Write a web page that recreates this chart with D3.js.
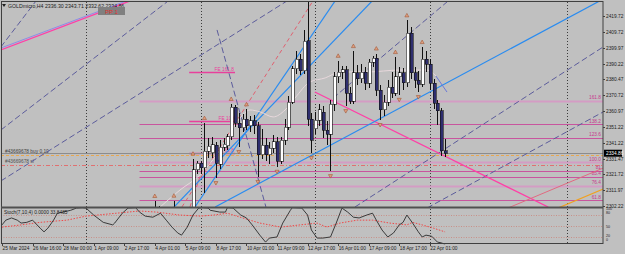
<!DOCTYPE html>
<html>
<head>
<meta charset="utf-8">
<script src="https://cdn.jsdelivr.net/npm/d3@7"></script>
<style>
  body { margin: 0; background: #c0c0c0; }
  svg { display: block; }
  text { font-family: "Liberation Sans", Arial, sans-serif; }
</style>
</head>
<body>
<svg id="chart"></svg>
<script>
// ---- data ----
var symbolTitle = "GOLDmicro,H4 2336.30 2343.71 2332.62 2334.86";
var firstBar = 40;
var opens  = [2298.0,2300.0,2292.0,2286.0,2291.0,2298.0,2296.0,2290.0,2289.0,2295.0,
              2299.0,2324.5,2328.8,2326.0,2336.0,2335.0,2339.8,2328.0,2338.7,2339.5,
              2345.0,2363.4,2353.5,2350.5,2356.0,2352.0,2355.0,2352.0,2333.8,2339.9,
              2333.8,2338.0,2341.8,2330.0,2343.0,2351.0,2366.5,2387.0,2393.0,2386.0,
              2404.5,2356.0,2350.0,2355.4,2360.3,2349.0,2346.7,2365.0,2382.0,2385.0,
              2386.5,2372.0,2367.0,2384.5,2381.0,2385.0,2378.0,2391.0,2393.7,2373.9,
              2361.6,2366.5,2375.8,2372.0,2382.0,2384.5,2378.3,2409.0,2384.5,2380.0,
              2377.5,2393.0,2390.0,2378.0,2365.9,2361.0,2336.30];
var highs  = [2305.3,2302.0,2295.0,2293.0,2300.0,2305.5,2300.0,2294.0,2296.0,2301.0,
              2331.5,2330.0,2330.0,2353.5,2344.0,2345.0,2342.0,2343.0,2344.0,2347.0,
              2365.3,2364.5,2360.0,2359.0,2362.0,2358.0,2358.5,2354.0,2350.0,2344.0,
              2342.0,2346.0,2345.0,2345.0,2356.0,2370.0,2389.0,2398.0,2396.0,2411.0,
              2431.5,2359.5,2360.5,2365.5,2364.0,2355.0,2368.0,2385.0,2392.0,2389.0,
              2389.0,2376.0,2398.0,2389.5,2390.0,2388.0,2393.0,2395.0,2396.5,2377.0,
              2371.0,2380.0,2385.0,2394.3,2388.0,2387.6,2417.0,2413.0,2388.0,2386.0,
              2400.5,2398.0,2393.0,2381.0,2368.0,2363.0,2343.71];
var lows   = [2294.0,2290.0,2284.0,2283.0,2288.0,2294.0,2288.0,2282.0,2285.0,2291.0,
              2297.0,2322.0,2322.0,2310.0,2332.0,2332.0,2319.5,2325.0,2336.0,2337.0,
              2343.0,2351.0,2338.7,2348.0,2349.0,2348.0,2347.0,2320.2,2331.0,2330.0,
              2328.0,2335.0,2326.5,2328.0,2340.0,2349.0,2365.0,2384.0,2383.0,2384.0,
              2352.0,2335.0,2347.0,2352.0,2344.0,2340.0,2323.8,2361.0,2378.0,2381.0,
              2364.0,2365.0,2365.5,2377.0,2378.0,2374.0,2375.0,2388.0,2370.0,2355.4,
              2358.0,2364.0,2369.0,2370.0,2371.0,2374.0,2376.0,2381.0,2375.0,2372.7,
              2376.0,2385.0,2374.0,2362.0,2352.3,2333.0,2332.62];
var closes = [2301.0,2292.0,2286.0,2291.0,2298.0,2296.0,2290.0,2289.0,2295.0,2299.0,
              2324.5,2328.8,2326.0,2336.0,2339.3,2340.0,2328.8,2338.7,2340.5,2345.0,
              2363.4,2353.5,2350.5,2356.0,2352.0,2355.0,2352.0,2333.8,2339.9,2333.8,
              2338.0,2341.8,2330.0,2343.0,2351.0,2366.5,2387.0,2393.0,2386.0,2404.0,
              2356.0,2343.0,2355.4,2361.6,2349.0,2346.7,2365.0,2382.0,2385.0,2386.5,
              2372.0,2367.0,2384.5,2381.0,2385.0,2378.0,2391.0,2393.7,2373.9,2361.6,
              2366.5,2375.8,2372.0,2382.0,2384.5,2378.3,2409.0,2384.5,2380.0,2377.5,
              2393.0,2390.0,2378.0,2365.9,2361.0,2336.3,2334.86];

var fractalUp   = [40, 45, 50, 53, 60, 64, 88, 92, 98, 103, 106, 110];
var fractalDown = [56, 62, 67, 72, 81, 86, 90, 99, 104, 109];

var priceTicks = [2419.72, 2409.72, 2399.97, 2390.22, 2380.47, 2370.72, 2360.97,
                  2351.22, 2341.22, 2331.47, 2321.72, 2311.97, 2302.22];
var dateTicks  = [0, 8, 16, 24, 32, 40, 48, 56, 64, 72, 80, 88, 96, 104, 112];
var dateLabels = ["25 Mar 2024", "26 Mar 16:00", "28 Mar 00:00", "1 Apr 09:00", "2 Apr 17:00",
                  "4 Apr 01:00", "5 Apr 09:00", "8 Apr 17:00", "10 Apr 01:00", "11 Apr 09:00",
                  "12 Apr 17:00", "16 Apr 01:00", "17 Apr 09:00", "18 Apr 17:00", "22 Apr 01:00"];
var separators = [22, 52, 82, 112, 148];

var bidPrice = 2334.86;
var orderPrice = 2334.3;
var slPrice = 2327.6;

var fibStart = 36;
var fibLabels = ["161.8", "138.2", "123.6", "100.0", "81", "85.4", "76.4", "61.8"];
var fibPrices = [2367.2, 2352.9, 2344.3, 2329.4, 2323.9, 2320.2, 2314.6, 2305.9];
var fibPale   = [true, false, false, true, false, false, true, false];

var feLabels = ["FE 161.8", "FE 100", "FE 61.8"];
var fePrices = [2385.1, 2354.6, 2335.0];
var feFrom = 49, feTo = 61;

// trend lines: [bar1, price1, bar2, price2]
var slateLines = [[-0.3, 2400.55, 8.9, 2429.0], [-0.3, 2349.2, 43.5, 2429.0],
                  [-0.3, 2317.7, 74.6, 2429.0], [56.3, 2411.1, 69.1, 2301.6],
                  [92.4, 2301.6, 157.4, 2400.6], [111.3, 2301.0, 157.4, 2360.4],
                  [86.7, 2369.0, 116.8, 2429.0]];
var blueLines  = [[50.5, 2301.6, 87.2, 2429.0], [44.8, 2301.0, 96.9, 2429.0],
                  [55.8, 2301.6, 157.4, 2430.2]];
var redDashed  = [[47.1, 2301.6, 81.4, 2429.0], [49.2, 2301.6, 53.7, 2333.8]];
var pinkLines  = [[-0.3, 2398.7, 33.5, 2429.0], [81.9, 2372.7, 143.0, 2301.6]];
var paleBlueLine = [-0.3, 2399.9, 32.5, 2429.0];
var orangeLine = [145.6, 2301.0, 157.4, 2312.7];
var salmonLine = [132.5, 2301.0, 157.4, 2325.7];

var maBars   = [41.4, 46.6, 51.8, 57.1, 62.3, 64.9, 67.6, 71.0, 74.1, 76.7, 80.6, 84.6, 88.5, 95.6, 104.2, 111.3, 113.6];
var maPrices = [2301.6, 2312.1, 2321.4, 2336.9, 2356.6, 2361.6, 2360.4, 2357.3, 2361.6, 2369.0, 2378.9, 2381.4, 2385.1, 2385.1, 2386.3, 2386.3, 2382.6];
var maTailBars = [113.6, 116.5];
var maTailPrices = [2382.6, 2372.7];

var stochBars = [0,1,2.5,4,5,6.5,8,10,11,12,13.5,14.5,16,18,19.5,21,22,24,26.5,29,29.5,31.5,33,35,36,37.5,39.5,41.5,43,44.5,46,47,48.5,50,51.5,52.5,54,54.5,57,58.5,59,60.5,62.5,64,65.5,67.5,69,70,72,73.5,75.5,76,78.5,80,81,82.5,84,86,87.5,89,90.5,92,93.5,95.5,97,98,99.5,101,102.5,104,105,106,107.5,109,110,111,112.5,114,115,116];
var stochMain = [53,66,72,66,58,60,66,44,34,44,66,85,88,93,99,100,99,80,60,53,58,85,99,100,88,77,74,85,66,47,31,25,47,80,99,100,99,93,88,88,100,99,80,72,53,25,6,17,20,58,93,100,99,80,39,17,17,20,58,99,88,74,72,80,85,66,39,20,31,53,60,80,58,34,20,25,22,6,4,0];
var signalBars = [0,5,10,17,22,30,36,40.5,46.5,52,55.5,59,63,67.5,73,78,82.5,85,88.5,93,97,101.5,106,107.5,110,113,116];
var signalVals = [47,53,60,66,77,85,91,88,80,77,80,85,72,58,47,53,58,47,58,66,66,58,53,60,53,44,33.85];
var stochLevels = [80, 50, 20];
var stochAxis = [100, 80, 50, 20, 0];
var stochAxisY = [210.3, 214.3, 228.3, 236.6, 241.3];

// ---- layout ----
var W = 625, H = 254;
var left = 1, right = 603, mainTop = 2, mainBottom = 207, subTop = 208, subBottom = 243.5;

var svg = d3.select("svg#chart").attr("width", W).attr("height", H);
svg.append("rect").attr("width", W).attr("height", H).attr("fill", "#c0c0c0");

var x = d3.scaleLinear().domain([0, 112]).range([2, 429.8]);
var y = d3.scaleLinear().domain([2302.22, 2419.72]).range([206, 16]);
var ys = d3.scaleLinear().domain([0, 100]).range([244.3, 207.7]);

var defs = svg.append("defs");
defs.append("clipPath").attr("id", "clipMain").append("rect")
  .attr("x", left).attr("y", mainTop).attr("width", right - left).attr("height", mainBottom - mainTop);
defs.append("clipPath").attr("id", "clipSub").append("rect")
  .attr("x", left).attr("y", subTop).attr("width", right - left).attr("height", subBottom - subTop + 1);

var main = svg.append("g").attr("clip-path", "url(#clipMain)");
var sub = svg.append("g").attr("clip-path", "url(#clipSub)");

// period separators
[main, sub].forEach(function(g) {
  g.selectAll("line.sep").data(separators).enter().append("line")
    .attr("x1", function(d) { return Math.round(x(d)) + 0.5; })
    .attr("x2", function(d) { return Math.round(x(d)) + 0.5; })
    .attr("y1", mainTop).attr("y2", subBottom)
    .attr("stroke", "#3c3c3c").attr("stroke-width", 1).attr("stroke-dasharray", "1,2");
});

// fibo levels
main.selectAll("line.fib").data(fibPrices).enter().append("line")
  .attr("x1", x(fibStart)).attr("x2", right)
  .attr("y1", function(d) { return Math.round(y(d)) + 0.5; })
  .attr("y2", function(d) { return Math.round(y(d)) + 0.5; })
  .attr("stroke", function(d, i) { return fibPale[i] ? "#d49cc4" : "#c8559e"; })
  .attr("stroke-width", function(d, i) { return fibPale[i] ? 2 : 1; });
main.selectAll("text.fib").data(fibPrices).enter().append("text")
  .attr("x", right - 2).attr("y", function(d) { return y(d) - 1.5; })
  .attr("text-anchor", "end").attr("font-size", 4.8).attr("fill", "#c8388e")
  .text(function(d, i) { return fibLabels[i]; });

// FE lines
main.selectAll("line.fe").data(fePrices).enter().append("line")
  .attr("x1", x(feFrom)).attr("x2", x(feTo))
  .attr("y1", function(d) { return Math.round(y(d)) + 0.5; })
  .attr("y2", function(d) { return Math.round(y(d)) + 0.5; })
  .attr("stroke", "#e8409c").attr("stroke-width", 1.5);
main.selectAll("text.fe").data(fePrices).enter().append("text")
  .attr("x", x(feTo) - 1).attr("y", function(d) { return y(d) - 1.2; })
  .attr("text-anchor", "end").attr("font-size", 4.8).attr("fill", "#e8409c")
  .text(function(d, i) { return feLabels[i]; });

// bid, order and stop lines
main.append("line").attr("x1", left).attr("x2", right)
  .attr("y1", Math.round(y(bidPrice)) + 0.5).attr("y2", Math.round(y(bidPrice)) + 0.5)
  .attr("stroke", "#8c8c8c").attr("stroke-width", 1);
main.append("line").attr("x1", left).attr("x2", right)
  .attr("y1", Math.round(y(orderPrice)) + 1.5).attr("y2", Math.round(y(orderPrice)) + 1.5)
  .attr("stroke", "#e8a850").attr("stroke-width", 1).attr("stroke-dasharray", "3,2");
main.append("line").attr("x1", left).attr("x2", right)
  .attr("y1", Math.round(y(slPrice)) + 0.5).attr("y2", Math.round(y(slPrice)) + 0.5)
  .attr("stroke", "#e07070").attr("stroke-width", 1).attr("stroke-dasharray", "4,2,1,2");
main.append("text").attr("x", 5).attr("y", y(orderPrice) - 1.5)
  .attr("font-size", 4.8).attr("fill", "#404040").text("#43669678 buy 0.10");
main.append("text").attr("x", 5).attr("y", y(slPrice) - 1.5)
  .attr("font-size", 4.8).attr("fill", "#505050").text("#43669678 sl");

// trend lines
function drawLines(data, color, width, dash) {
  main.append("g").selectAll("line").data(data).enter().append("line")
    .attr("x1", function(d) { return x(d[0]); }).attr("y1", function(d) { return y(d[1]); })
    .attr("x2", function(d) { return x(d[2]); }).attr("y2", function(d) { return y(d[3]); })
    .attr("stroke", color).attr("stroke-width", width)
    .attr("stroke-dasharray", dash || null);
}
drawLines(slateLines, "#5c5c9c", 1, "6,3");
drawLines(redDashed, "#e06070", 1, "4,3");
drawLines([paleBlueLine], "#8c8ce8", 1);
drawLines(pinkLines, "#ff3fa6", 1.3);
drawLines(blueLines, "#2a8cf0", 1.2);
drawLines([orangeLine], "#f0a020", 1.2);
drawLines([salmonLine], "#e06a80", 1);

// moving average
var maLine = d3.line().x(function(d) { return x(d[0]); }).y(function(d) { return y(d[1]); })
  .curve(d3.curveMonotoneX);
main.append("path").datum(maBars.map(function(b, i) { return [b, maPrices[i]]; }))
  .attr("d", maLine).attr("fill", "none").attr("stroke", "#e8d8dc").attr("stroke-width", 1);
main.append("path").datum(maTailBars.map(function(b, i) { return [b, maTailPrices[i]]; }))
  .attr("d", maLine).attr("fill", "none").attr("stroke", "#6a78d8").attr("stroke-width", 1);

// candles
var bars = opens.map(function(o, i) {
  return { i: firstBar + i, o: o, h: highs[i], l: lows[i], c: closes[i] };
});
var cg = main.append("g").attr("shape-rendering", "crispEdges");
cg.selectAll("line").data(bars).enter().append("line")
  .attr("x1", function(d) { return Math.round(x(d.i)) + 0.5; })
  .attr("x2", function(d) { return Math.round(x(d.i)) + 0.5; })
  .attr("y1", function(d) { return y(d.h); }).attr("y2", function(d) { return y(d.l); })
  .attr("stroke", "#101010").attr("stroke-width", 1);
cg.selectAll("rect").data(bars).enter().append("rect")
  .attr("x", function(d) { return Math.round(x(d.i)) - 1; })
  .attr("width", 3)
  .attr("y", function(d) { return y(Math.max(d.o, d.c)); })
  .attr("height", function(d) { return Math.max(1, Math.abs(y(d.o) - y(d.c))); })
  .attr("fill", function(d) { return d.c >= d.o ? "#ffffff" : "#2e2e6e"; })
  .attr("stroke", "#101010").attr("stroke-width", 0.6);

// fractal markers
function barAt(i) { return bars[i - firstBar]; }
main.selectAll("path.fu").data(fractalUp).enter().append("path")
  .attr("d", function(d) {
    var cx = x(d), cy = y(barAt(d).h) - 5;
    return "M" + (cx - 2) + "," + (cy + 1.5) + "L" + cx + "," + (cy - 2) + "L" + (cx + 2) + "," + (cy + 1.5) + "Z";
  })
  .attr("fill", "#e0a080").attr("stroke", "#a05838").attr("stroke-width", 0.6);
main.selectAll("path.fd").data(fractalDown).enter().append("path")
  .attr("d", function(d) {
    var cx = x(d), cy = y(barAt(d).l) + 5;
    return "M" + (cx - 2) + "," + (cy - 1.5) + "L" + cx + "," + (cy + 2) + "L" + (cx + 2) + "," + (cy - 1.5) + "Z";
  })
  .attr("fill", "#e0a080").attr("stroke", "#a05838").attr("stroke-width", 0.6);

// header and PP label
svg.append("path").attr("d", "M2,4 L6,4 L4,7 Z").attr("fill", "#202020");
svg.append("text").attr("x", 8).attr("y", 7.5).attr("font-size", 5.2).attr("fill", "#202020")
  .text(symbolTitle);
svg.append("rect").attr("x", 98).attr("y", 7).attr("width", 27).attr("height", 8).attr("fill", "#808080");
svg.append("text").attr("x", 111.5).attr("y", 13.5).attr("text-anchor", "middle")
  .attr("font-size", 6).attr("fill", "#e03030").text("PP 1");

// stochastic subwindow
sub.selectAll("line.lvl").data(stochLevels).enter().append("line")
  .attr("x1", left).attr("x2", right)
  .attr("y1", function(d) { return Math.round(ys(d)) + 0.5; })
  .attr("y2", function(d) { return Math.round(ys(d)) + 0.5; })
  .attr("stroke", "#c89088").attr("stroke-width", 1).attr("stroke-dasharray", "1,1.5");
var sLine = d3.line().x(function(d) { return x(d[0]); }).y(function(d) { return ys(d[1]); });
sub.append("path").datum(signalBars.map(function(b, i) { return [b, signalVals[i]]; }))
  .attr("d", sLine).attr("fill", "none").attr("stroke", "#f04848").attr("stroke-width", 1)
  .attr("stroke-dasharray", "1.5,1.5");
sub.append("path").datum(stochBars.map(function(b, i) { return [b, stochMain[i]]; }))
  .attr("d", sLine).attr("fill", "none").attr("stroke", "#3a3a3a").attr("stroke-width", 1);
svg.append("text").attr("x", 4).attr("y", 214).attr("font-size", 4.8).attr("fill", "#202020")
  .text("Stoch(7,10,4) 0.0000 33.8485");

// frames
svg.append("rect").attr("x", 1.5).attr("y", 1.5).attr("width", right - 1.5).attr("height", subBottom - 1.5)
  .attr("fill", "none").attr("stroke", "#404040").attr("stroke-width", 1);
svg.append("rect").attr("x", 1).attr("y", mainBottom - 0.5).attr("width", right - 1).attr("height", 2)
  .attr("fill", "#505050");

// price axis
var pa = svg.append("g");
pa.selectAll("line").data(priceTicks).enter().append("line")
  .attr("x1", right).attr("x2", right + 2)
  .attr("y1", function(d) { return Math.round(y(d)) + 0.5; })
  .attr("y2", function(d) { return Math.round(y(d)) + 0.5; })
  .attr("stroke", "#404040");
pa.selectAll("text").data(priceTicks).enter().append("text")
  .attr("x", right + 3).attr("y", function(d) { return y(d) + 1.8; })
  .attr("font-size", 4.8).attr("fill", "#202020")
  .text(function(d) { return d.toFixed(2); });
pa.append("rect").attr("x", right + 1).attr("y", y(bidPrice) - 3.5).attr("width", 18).attr("height", 7)
  .attr("fill", "#000000");
pa.append("text").attr("x", right + 3).attr("y", y(bidPrice) + 1.8)
  .attr("font-size", 4.8).attr("fill", "#ffffff").text(bidPrice.toFixed(2));

// stoch axis
svg.selectAll("text.sa").data(stochAxis).enter().append("text")
  .attr("x", right + 3)
  .attr("y", function(d, i) { return stochAxisY[i]; })
  .attr("font-size", 3.6).attr("fill", "#202020")
  .text(function(d) { return d; });

// date axis
var da = svg.append("g");
da.selectAll("line").data(dateTicks).enter().append("line")
  .attr("x1", function(d) { return Math.round(x(d)) + 0.5; })
  .attr("x2", function(d) { return Math.round(x(d)) + 0.5; })
  .attr("y1", subBottom).attr("y2", subBottom + 2.5)
  .attr("stroke", "#404040");
da.selectAll("text").data(dateTicks).enter().append("text")
  .attr("x", function(d) { return x(d) + 0.5; }).attr("y", 250)
  .attr("font-size", 4.8).attr("fill", "#202020")
  .text(function(d, i) { return dateLabels[i]; });
</script>
</body>
</html>
